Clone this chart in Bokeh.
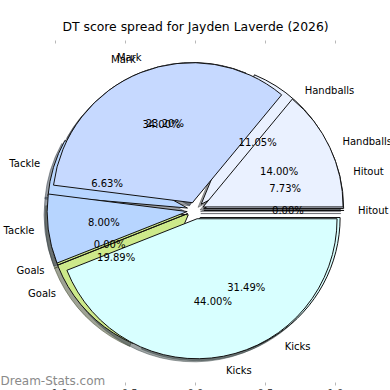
import numpy as np
from bokeh.plotting import figure
from bokeh.models import Range1d, ColumnDataSource
from bokeh.core.properties import value
from bokeh.embed import file_html
from bokeh.resources import INLINE

# ---- data -------------------------------------------------------------
categories = ["Hitout", "Handballs", "Mark", "Tackle", "Goals", "Kicks"]
# first pie: points per category (percent of 181)
points_a = [14, 20, 42, 12, 36, 57]
# second pie: percentage shares
pct_b = [0, 14, 34, 8, 0, 44]
xticks = [-1.0, -0.5, 0.0, 0.5, 1.0]
xtick_labels = ["\u22121.0", "\u22120.5", "0.0", "0.5", "1.0"]
title_text = "DT score spread for Jayden Laverde (2026)"
watermark = "Dream-Stats.com"

# ---- style ------------------------------------------------------------
colors = ["#dfe3f5", "#eaf1ff", "#c6d9ff", "#b7d5ff", "#cde98a", "#d8ffff"]
EXPLODE = 0.06
LABEL_D = 1.1
PCT_D = 0.6
SH_OFF = 0.022
FONT = "DejaVu Sans"

PX = 140.0
W = H = 390
cx_px, cy_px = 195, 210

p = figure(width=W, height=H, output_backend="svg", toolbar_location=None,
           x_range=Range1d(-cx_px / PX, (W - cx_px) / PX),
           y_range=Range1d(-(H - cy_px) / PX, cy_px / PX),
           x_axis_type=None, y_axis_type=None, min_border=0)
p.outline_line_color = None
p.grid.visible = False
p.background_fill_color = "white"
p.border_fill_color = "white"


def shade(hexcol, f=0.3):
    h = hexcol.lstrip("#")
    r, g, b = (int(h[i:i + 2], 16) for i in (0, 2, 4))
    return "#%02x%02x%02x" % (int(r * f), int(g * f), int(b * f))


def pie_geometry(vals):
    v = np.asarray(vals, dtype=float)
    frac = v / v.sum()
    ends = np.cumsum(frac) * 2 * np.pi
    starts = ends - frac * 2 * np.pi
    mids = (starts + ends) / 2
    draw_end = np.where(ends - starts < 1e-6, starts + 1e-3, ends)
    cx = EXPLODE * np.cos(mids)
    cy = EXPLODE * np.sin(mids)
    return dict(frac=frac, start=starts, end=draw_end, mid=mids, cx=cx, cy=cy)


ga = pie_geometry(points_a)
gb = pie_geometry(pct_b)


def src(g):
    return ColumnDataSource(dict(
        x=g["cx"], y=g["cy"], start=g["start"], end=g["end"],
        sx=g["cx"] - SH_OFF, sy=g["cy"] - SH_OFF,
        color=colors, shadow=[shade(c) for c in colors],
        lx=g["cx"] + LABEL_D * np.cos(g["mid"]),
        ly=g["cy"] + LABEL_D * np.sin(g["mid"]),
        px=g["cx"] + PCT_D * np.cos(g["mid"]),
        py=g["cy"] + PCT_D * np.sin(g["mid"]),
        label=categories,
        pct=["%.2f%%" % (f * 100) for f in g["frac"]],
        align=["left" if np.cos(m) * LABEL_D + c > 0 else "right"
               for m, c in zip(g["mid"], g["cx"])],
    ))


sa, sb = src(ga), src(gb)

# shadows first
for s in (sa, sb):
    p.wedge(x="sx", y="sy", radius=1.0, start_angle="start", end_angle="end",
            fill_color="shadow", fill_alpha=0.5, line_color="shadow",
            line_alpha=0.5, line_width=1, source=s)

# wedges
for s in (sa, sb):
    p.wedge(x="x", y="y", radius=1.0, start_angle="start", end_angle="end",
            fill_color="color", line_color="#111111", line_width=1.0, source=s)

# texts
for s in (sa, sb):
    p.text(x="lx", y="ly", text="label", text_align="align",
           text_baseline="middle", text_font=value(FONT),
           text_font_size="10px", text_color="black", source=s)
    p.text(x="px", y="py", text="pct", text_align="center",
           text_baseline="middle", text_font=value(FONT),
           text_font_size="10px", text_color="black", source=s)

# tick marks (top and bottom)
p.segment(x0=xticks, y0=[(210 - 43) / PX] * len(xticks),
          x1=xticks, y1=[(210 - 40) / PX] * len(xticks),
          line_color="#b8b8b8", line_width=1)
p.segment(x0=xticks, y0=[(210 - 382) / PX] * len(xticks),
          x1=xticks, y1=[(210 - 385) / PX] * len(xticks),
          line_color="#b8b8b8", line_width=1)
p.text(x=xticks, y=[(210 - 388) / PX] * len(xticks), text=xtick_labels,
       text_align="center", text_baseline="top", text_font=value(FONT),
       text_font_size="10px", text_color="#444444")

# title
p.text(x=[0.0], y=[(210 - 26) / PX], text=[title_text], text_align="center",
       text_baseline="middle", text_font=value(FONT), text_font_size="12.4px",
       text_color="black")

# watermark
p.text(x=[-cx_px / PX], y=[(210 - 380) / PX], text=[watermark],
       text_align="left", text_baseline="middle", text_font=value(FONT),
       text_font_size="12px", text_color="#8a8a8a")

open("out.html", "w").write(file_html(p, INLINE))
